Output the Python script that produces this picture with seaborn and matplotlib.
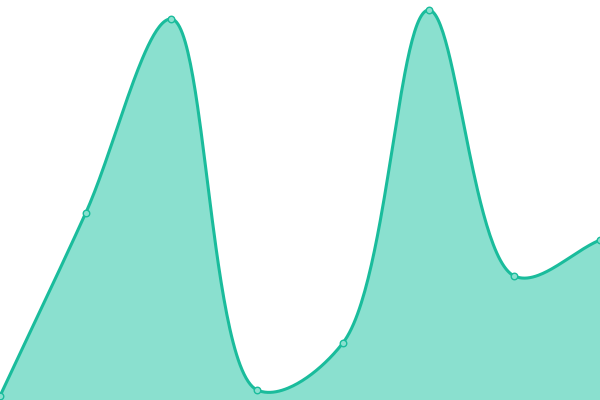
import numpy as np
import pandas as pd
import matplotlib
matplotlib.use("Agg")
import matplotlib.pyplot as plt
import seaborn as sns

# values (pixel height above the bottom edge)
x_pos = [0, 1, 2, 3, 4, 5, 6, 7]
values = [4, 187, 381, 10, 57, 390, 124, 160]

line_color = "#1abc9c"
fill_color = "#8ae0cf"


# centripetal Catmull-Rom through the points (in pixel space), only for drawing
def smooth(xs, ys, sx=600 / 7, steps=60):
    P = np.column_stack([np.array(xs, float) * sx, np.array(ys, float)])
    P = np.vstack([2 * P[0] - P[1], P, 2 * P[-1] - P[-2]])
    out = []
    for i in range(1, len(P) - 2):
        p0, p1, p2, p3 = P[i - 1], P[i], P[i + 1], P[i + 2]
        t0 = 0.0
        t1 = t0 + np.linalg.norm(p1 - p0) ** 0.5
        t2 = t1 + np.linalg.norm(p2 - p1) ** 0.5
        t3 = t2 + np.linalg.norm(p3 - p2) ** 0.5
        t = np.linspace(t1, t2, steps)[:, None]
        a1 = (t1 - t) / (t1 - t0) * p0 + (t - t0) / (t1 - t0) * p1
        a2 = (t2 - t) / (t2 - t1) * p1 + (t - t1) / (t2 - t1) * p2
        a3 = (t3 - t) / (t3 - t2) * p2 + (t - t2) / (t3 - t2) * p3
        b1 = (t2 - t) / (t2 - t0) * a1 + (t - t0) / (t2 - t0) * a2
        b2 = (t3 - t) / (t3 - t1) * a2 + (t - t1) / (t3 - t1) * a3
        c = (t2 - t) / (t2 - t1) * b1 + (t - t1) / (t2 - t1) * b2
        out.append(c)
    out = np.vstack(out)
    return out[:, 0] / sx, out[:, 1]


sx, sy = smooth(x_pos, values)
curve = pd.DataFrame({"x": sx, "y": sy})
pts = pd.DataFrame({"x": x_pos, "y": values})

sns.set_style("white")
fig = plt.figure(figsize=(6, 4), dpi=100)
ax = fig.add_axes([0, 0, 1, 1])

ax.fill_between(curve["x"], curve["y"], 0, color=fill_color, linewidth=0)
sns.lineplot(data=curve, x="x", y="y", ax=ax, color=line_color, linewidth=2.2,
             sort=False, estimator=None)
sns.scatterplot(data=pts, x="x", y="y", ax=ax, s=22, color=fill_color,
                edgecolor=line_color, linewidth=1, zorder=5, clip_on=False)

ax.set_xlim(0, 7)
ax.set_ylim(0, 400)
ax.axis("off")

fig.savefig("out.png", dpi=100)
